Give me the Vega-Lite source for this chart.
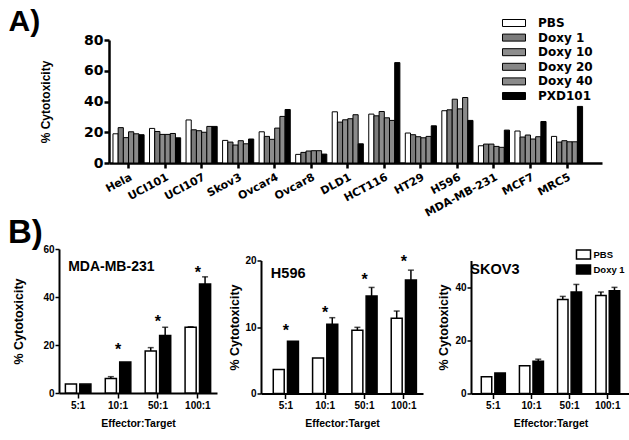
{
  "$schema": "https://vega.github.io/schema/vega-lite/v6.json",
  "background": "white",
  "padding": {"left": 7, "top": 7, "right": 0, "bottom": 0},
  "config": {
    "view": {"stroke": null},
    "font": "Liberation Sans",
    "axis": {"grid": false, "domainColor": "black", "tickColor": "black", "labelColor": "black", "titleColor": "black"},
    "legend": {"labelColor": "black"}
  },
  "datasets": {
    "a": [
      {"cell": "Hela", "treatment": "PBS", "value": 19},
      {"cell": "Hela", "treatment": "Doxy 1", "value": 23},
      {"cell": "Hela", "treatment": "Doxy 10", "value": 16.5},
      {"cell": "Hela", "treatment": "Doxy 20", "value": 20.3},
      {"cell": "Hela", "treatment": "Doxy 40", "value": 19},
      {"cell": "Hela", "treatment": "PXD101", "value": 18.4},
      {"cell": "UCI101", "treatment": "PBS", "value": 22.5},
      {"cell": "UCI101", "treatment": "Doxy 1", "value": 20.5},
      {"cell": "UCI101", "treatment": "Doxy 10", "value": 18.6},
      {"cell": "UCI101", "treatment": "Doxy 20", "value": 18.6},
      {"cell": "UCI101", "treatment": "Doxy 40", "value": 19.2},
      {"cell": "UCI101", "treatment": "PXD101", "value": 16.4},
      {"cell": "UCI107", "treatment": "PBS", "value": 28},
      {"cell": "UCI107", "treatment": "Doxy 1", "value": 21.6},
      {"cell": "UCI107", "treatment": "Doxy 10", "value": 21},
      {"cell": "UCI107", "treatment": "Doxy 20", "value": 20},
      {"cell": "UCI107", "treatment": "Doxy 40", "value": 23.8},
      {"cell": "UCI107", "treatment": "PXD101", "value": 23.8},
      {"cell": "Skov3", "treatment": "PBS", "value": 14.7},
      {"cell": "Skov3", "treatment": "Doxy 1", "value": 13.6},
      {"cell": "Skov3", "treatment": "Doxy 10", "value": 11.7},
      {"cell": "Skov3", "treatment": "Doxy 20", "value": 14.5},
      {"cell": "Skov3", "treatment": "Doxy 40", "value": 12.5},
      {"cell": "Skov3", "treatment": "PXD101", "value": 15.6},
      {"cell": "Ovcar4", "treatment": "PBS", "value": 20.3},
      {"cell": "Ovcar4", "treatment": "Doxy 1", "value": 17.3},
      {"cell": "Ovcar4", "treatment": "Doxy 10", "value": 15.4},
      {"cell": "Ovcar4", "treatment": "Doxy 20", "value": 22.7},
      {"cell": "Ovcar4", "treatment": "Doxy 40", "value": 30.3},
      {"cell": "Ovcar4", "treatment": "PXD101", "value": 34.8},
      {"cell": "Ovcar8", "treatment": "PBS", "value": 5.6},
      {"cell": "Ovcar8", "treatment": "Doxy 1", "value": 6.9},
      {"cell": "Ovcar8", "treatment": "Doxy 10", "value": 7.8},
      {"cell": "Ovcar8", "treatment": "Doxy 20", "value": 8},
      {"cell": "Ovcar8", "treatment": "Doxy 40", "value": 8},
      {"cell": "Ovcar8", "treatment": "PXD101", "value": 5.8},
      {"cell": "DLD1", "treatment": "PBS", "value": 33.3},
      {"cell": "DLD1", "treatment": "Doxy 1", "value": 26.6},
      {"cell": "DLD1", "treatment": "Doxy 10", "value": 28.1},
      {"cell": "DLD1", "treatment": "Doxy 20", "value": 28.8},
      {"cell": "DLD1", "treatment": "Doxy 40", "value": 31.4},
      {"cell": "DLD1", "treatment": "PXD101", "value": 12.5},
      {"cell": "HCT116", "treatment": "PBS", "value": 31.8},
      {"cell": "HCT116", "treatment": "Doxy 1", "value": 30.7},
      {"cell": "HCT116", "treatment": "Doxy 10", "value": 33.5},
      {"cell": "HCT116", "treatment": "Doxy 20", "value": 29.4},
      {"cell": "HCT116", "treatment": "Doxy 40", "value": 27.7},
      {"cell": "HCT116", "treatment": "PXD101", "value": 65.3},
      {"cell": "HT29", "treatment": "PBS", "value": 19.5},
      {"cell": "HT29", "treatment": "Doxy 1", "value": 18.4},
      {"cell": "HT29", "treatment": "Doxy 10", "value": 17.1},
      {"cell": "HT29", "treatment": "Doxy 20", "value": 16.4},
      {"cell": "HT29", "treatment": "Doxy 40", "value": 17.3},
      {"cell": "HT29", "treatment": "PXD101", "value": 24.2},
      {"cell": "H596", "treatment": "PBS", "value": 34},
      {"cell": "H596", "treatment": "Doxy 1", "value": 34.6},
      {"cell": "H596", "treatment": "Doxy 10", "value": 41.5},
      {"cell": "H596", "treatment": "Doxy 20", "value": 35.2},
      {"cell": "H596", "treatment": "Doxy 40", "value": 42.6},
      {"cell": "H596", "treatment": "PXD101", "value": 27.7},
      {"cell": "MDA-MB-231", "treatment": "PBS", "value": 11.2},
      {"cell": "MDA-MB-231", "treatment": "Doxy 1", "value": 12.3},
      {"cell": "MDA-MB-231", "treatment": "Doxy 10", "value": 12.3},
      {"cell": "MDA-MB-231", "treatment": "Doxy 20", "value": 10.8},
      {"cell": "MDA-MB-231", "treatment": "Doxy 40", "value": 10.2},
      {"cell": "MDA-MB-231", "treatment": "PXD101", "value": 21.4},
      {"cell": "MCF7", "treatment": "PBS", "value": 20.8},
      {"cell": "MCF7", "treatment": "Doxy 1", "value": 16.9},
      {"cell": "MCF7", "treatment": "Doxy 10", "value": 18.2},
      {"cell": "MCF7", "treatment": "Doxy 20", "value": 15.6},
      {"cell": "MCF7", "treatment": "Doxy 40", "value": 17.1},
      {"cell": "MCF7", "treatment": "PXD101", "value": 27},
      {"cell": "MRC5", "treatment": "PBS", "value": 17.3},
      {"cell": "MRC5", "treatment": "Doxy 1", "value": 13.6},
      {"cell": "MRC5", "treatment": "Doxy 10", "value": 14.5},
      {"cell": "MRC5", "treatment": "Doxy 20", "value": 13.8},
      {"cell": "MRC5", "treatment": "Doxy 40", "value": 13.8},
      {"cell": "MRC5", "treatment": "PXD101", "value": 36.8}
    ],
    "b1": [
      {"ratio": "5:1", "group": "PBS", "value": 3.7},
      {"ratio": "5:1", "group": "Doxy 1", "value": 3.7},
      {"ratio": "10:1", "group": "PBS", "value": 6.0, "upper": 6.8},
      {"ratio": "10:1", "group": "Doxy 1", "value": 12.9, "star": 19.5},
      {"ratio": "50:1", "group": "PBS", "value": 17.5, "upper": 18.9},
      {"ratio": "50:1", "group": "Doxy 1", "value": 24, "upper": 27.4, "star": 31.3},
      {"ratio": "100:1", "group": "PBS", "value": 27.4, "upper": 27.6},
      {"ratio": "100:1", "group": "Doxy 1", "value": 45.4, "upper": 48.4, "star": 51.5}
    ],
    "b2": [
      {"ratio": "5:1", "group": "PBS", "value": 3.6},
      {"ratio": "5:1", "group": "Doxy 1", "value": 7.85, "star": 10.05},
      {"ratio": "10:1", "group": "PBS", "value": 5.35},
      {"ratio": "10:1", "group": "Doxy 1", "value": 10.4, "upper": 11.4, "star": 12.65},
      {"ratio": "50:1", "group": "PBS", "value": 9.5, "upper": 9.95},
      {"ratio": "50:1", "group": "Doxy 1", "value": 14.65, "upper": 15.95, "star": 17.65},
      {"ratio": "100:1", "group": "PBS", "value": 11.3, "upper": 12.4},
      {"ratio": "100:1", "group": "Doxy 1", "value": 17.05, "upper": 18.55, "star": 20.45}
    ],
    "b3": [
      {"ratio": "5:1", "group": "PBS", "value": 6.3},
      {"ratio": "5:1", "group": "Doxy 1", "value": 7.7},
      {"ratio": "10:1", "group": "PBS", "value": 10.4},
      {"ratio": "10:1", "group": "Doxy 1", "value": 12.1, "upper": 12.9},
      {"ratio": "50:1", "group": "PBS", "value": 35.3, "upper": 36.5},
      {"ratio": "50:1", "group": "Doxy 1", "value": 38.2, "upper": 41},
      {"ratio": "100:1", "group": "PBS", "value": 36.8, "upper": 38.2},
      {"ratio": "100:1", "group": "Doxy 1", "value": 38.6, "upper": 39.9}
    ]
  },
  "spacing": -2,
  "resolve": {"scale": {"fill": "independent", "x": "independent", "y": "independent", "xOffset": "independent"}, "legend": {"fill": "independent"}},
  "vconcat": [
    {
      "spacing": -52,
      "resolve": {"scale": {"fill": "independent", "x": "independent", "y": "independent", "xOffset": "independent"}, "legend": {"fill": "independent"}},
      "hconcat": [
        {"width": 1, "height": 1, "data": {"values": []}, "mark": "point"},
        {
          "title": {"text": "A)", "anchor": "start", "font": "Liberation Sans", "fontSize": 30, "fontWeight": "bold", "color": "black", "baseline": "alphabetic", "dx": -31, "offset": -44},
          "width": 493,
          "height": 123,
          "data": {"name": "a"},
          "mark": {"type": "bar", "stroke": "black", "strokeWidth": 1},
          "encoding": {
            "x": {
              "field": "cell", "type": "nominal",
              "sort": ["Hela", "UCI101", "UCI107", "Skov3", "Ovcar4", "Ovcar8", "DLD1", "HCT116", "HT29", "H596", "MDA-MB-231", "MCF7", "MRC5"],
              "scale": {"paddingInner": 0.148, "paddingOuter": 0.32, "align": 0.17},
              "axis": {"title": null, "labelAngle": -28, "labelAlign": "right", "labelBaseline": "top", "labelFont": "DejaVu Sans", "labelFontWeight": "bold", "labelFontSize": 11, "labelPadding": 3, "domainWidth": 2.5, "tickWidth": 2.5, "tickSize": 5}
            },
            "xOffset": {"field": "treatment", "type": "nominal", "scale": {"domain": ["PBS", "Doxy 1", "Doxy 10", "Doxy 20", "Doxy 40", "PXD101"], "paddingInner": 0, "paddingOuter": 0}},
            "y": {
              "field": "value", "type": "quantitative",
              "scale": {"domain": [0, 80]},
              "axis": {"values": [0, 20, 40, 60, 80], "title": "% Cytotoxicity", "titleFont": "Liberation Sans", "titleFontSize": 12, "titleFontWeight": "bold", "titlePadding": 31, "labelFont": "DejaVu Sans", "labelFontWeight": "bold", "labelFontSize": 14, "labelPadding": 1, "domainWidth": 2.5, "tickWidth": 2.5, "tickSize": 5}
            },
            "fill": {
              "field": "treatment", "type": "nominal",
              "scale": {"domain": ["PBS", "Doxy 1", "Doxy 10", "Doxy 20", "Doxy 40", "PXD101"], "range": ["#ffffff", "#7b7b7b", "#8d8d8d", "#878787", "#8a8a8a", "#000000"]},
              "legend": {"orient": "none", "legendX": 399, "legendY": -23, "title": null, "padding": 0, "symbolType": "M-3.29,-1H3.29V1H-3.29Z", "symbolSize": 49, "symbolStrokeColor": "black", "symbolStrokeWidth": 1, "labelFont": "DejaVu Sans", "labelFontWeight": "bold", "labelFontSize": 12, "labelOffset": 18, "rowPadding": 2.6}
            }
          }
        }
      ]
    },
    {
      "title": {"text": "B)", "anchor": "start", "font": "Liberation Sans", "fontSize": 33, "fontWeight": "bold", "color": "black", "baseline": "alphabetic", "dx": -5, "offset": -32},
      "spacing": 11,
      "resolve": {"scale": {"fill": "independent", "x": "independent", "y": "independent", "xOffset": "independent"}, "legend": {"fill": "independent"}},
      "hconcat": [
        {
          "width": 158,
          "height": 144,
          "data": {"name": "b1"},
          "encoding": {
            "x": {
              "field": "ratio", "type": "nominal", "sort": ["5:1", "10:1", "50:1", "100:1"],
              "scale": {"paddingInner": 0.36, "paddingOuter": 0.16},
              "axis": {"title": "Effector:Target", "titleFont": "Liberation Sans", "titleFontSize": 10.5, "titleFontWeight": "bold", "titlePadding": 8, "labelAngle": 0, "labelFont": "Liberation Sans", "labelFontWeight": "bold", "labelFontSize": 10, "labelPadding": 2, "domainWidth": 2, "tickWidth": 1.5, "tickSize": 5}
            }
          },
          "layer": [
            {
              "mark": {"type": "bar", "stroke": "black", "strokeWidth": 1.5},
              "encoding": {
                "xOffset": {"field": "group", "type": "nominal", "scale": {"domain": ["PBS", "Doxy 1"], "paddingInner": 0.23}},
                "y": {"field": "value", "type": "quantitative", "scale": {"domain": [0, 60]},
                  "axis": {"values": [0, 20, 40, 60], "title": "% Cytotoxicity", "titleFont": "Liberation Sans", "titleFontSize": 12.5, "titleFontWeight": "bold", "titlePadding": 17, "labelFont": "Liberation Sans", "labelFontWeight": "bold", "labelFontSize": 10, "labelPadding": 1, "domainWidth": 2, "tickWidth": 1.5, "tickSize": 4}},
                "fill": {"field": "group", "type": "nominal", "scale": {"domain": ["PBS", "Doxy 1"], "range": ["#ffffff", "#000000"]}, "legend": null}
              }
            },
            {
              "transform": [{"filter": "isValid(datum.upper)"}],
              "mark": {"type": "rule", "color": "black", "strokeWidth": 1.5},
              "encoding": {
                "xOffset": {"field": "group", "type": "nominal", "scale": {"domain": ["PBS", "Doxy 1"], "paddingInner": 0.23}},
                "y": {"field": "value", "type": "quantitative"},
                "y2": {"field": "upper"}
              }
            },
            {
              "transform": [{"filter": "isValid(datum.upper)"}],
              "mark": {"type": "tick", "color": "black", "size": 6, "thickness": 1.5},
              "encoding": {
                "xOffset": {"field": "group", "type": "nominal", "scale": {"domain": ["PBS", "Doxy 1"], "paddingInner": 0.23}},
                "y": {"field": "upper", "type": "quantitative"}
              }
            },
            {
              "transform": [{"filter": "isValid(datum.star)"}],
              "mark": {"type": "text", "text": "*", "font": "Liberation Sans", "fontWeight": "bold", "fontSize": 16, "baseline": "alphabetic", "dy": 9, "color": "black"},
              "encoding": {"y": {"field": "star", "type": "quantitative"}}
            },
            {
              "data": {"values": [{"label": "MDA-MB-231"}]},
              "mark": {"type": "text", "font": "Liberation Sans", "fontWeight": "bold", "fontSize": 14, "align": "left", "baseline": "alphabetic", "dx": -10, "dy": 22, "color": "black"},
              "encoding": {"x": {"datum": "5:1"}, "y": {"datum": 60}, "text": {"field": "label"}}
            }
          ]
        },
        {
          "spacing": -1.5,
          "resolve": {"scale": {"fill": "independent", "x": "independent", "y": "independent", "xOffset": "independent"}, "legend": {"fill": "independent"}},
          "vconcat": [
            {"width": 1, "height": 1, "data": {"values": []}, "mark": "point"},
            {
              "spacing": 14,
              "resolve": {"scale": {"fill": "independent", "x": "independent", "y": "independent", "xOffset": "independent"}, "legend": {"fill": "independent"}},
              "hconcat": [
                {
                  "width": 162,
                  "height": 133,
                  "data": {"name": "b2"},
                  "encoding": {
                    "x": {
                      "field": "ratio", "type": "nominal", "sort": ["5:1", "10:1", "50:1", "100:1"],
                      "scale": {"paddingInner": 0.36, "paddingOuter": 0.24, "align": 0.65},
                      "axis": {"title": "Effector:Target", "titleFont": "Liberation Sans", "titleFontSize": 10.5, "titleFontWeight": "bold", "titlePadding": 8, "labelAngle": 0, "labelFont": "Liberation Sans", "labelFontWeight": "bold", "labelFontSize": 10, "labelPadding": 2, "domainWidth": 2, "tickWidth": 1.5, "tickSize": 5}
                    }
                  },
                  "layer": [
                    {
                      "mark": {"type": "bar", "stroke": "black", "strokeWidth": 1.5},
                      "encoding": {
                        "xOffset": {"field": "group", "type": "nominal", "scale": {"domain": ["PBS", "Doxy 1"], "paddingInner": 0.23}},
                        "y": {"field": "value", "type": "quantitative", "scale": {"domain": [0, 20]},
                          "axis": {"values": [0, 5, 10, 15, 20], "title": "% Cytotoxicity", "titleFont": "Liberation Sans", "titleFontSize": 12.5, "titleFontWeight": "bold", "titlePadding": 3, "labelFont": "Liberation Sans", "labelFontWeight": "bold", "labelFontSize": 10, "labelPadding": 1, "domainWidth": 2, "tickWidth": 1.5, "tickSize": 4}},
                        "fill": {"field": "group", "type": "nominal", "scale": {"domain": ["PBS", "Doxy 1"], "range": ["#ffffff", "#000000"]}, "legend": null}
                      }
                    },
                    {
                      "transform": [{"filter": "isValid(datum.upper)"}],
                      "mark": {"type": "rule", "color": "black", "strokeWidth": 1.5},
                      "encoding": {
                        "xOffset": {"field": "group", "type": "nominal", "scale": {"domain": ["PBS", "Doxy 1"], "paddingInner": 0.23}},
                        "y": {"field": "value", "type": "quantitative"},
                        "y2": {"field": "upper"}
                      }
                    },
                    {
                      "transform": [{"filter": "isValid(datum.upper)"}],
                      "mark": {"type": "tick", "color": "black", "size": 6, "thickness": 1.5},
                      "encoding": {
                        "xOffset": {"field": "group", "type": "nominal", "scale": {"domain": ["PBS", "Doxy 1"], "paddingInner": 0.23}},
                        "y": {"field": "upper", "type": "quantitative"}
                      }
                    },
                    {
                      "transform": [{"filter": "isValid(datum.star)"}],
                      "mark": {"type": "text", "text": "*", "font": "Liberation Sans", "fontWeight": "bold", "fontSize": 16, "baseline": "alphabetic", "dy": 9, "color": "black"},
                      "encoding": {"y": {"field": "star", "type": "quantitative"}}
                    },
                    {
                      "data": {"values": [{"label": "H596"}]},
                      "mark": {"type": "text", "font": "Liberation Sans", "fontWeight": "bold", "fontSize": 14.5, "align": "left", "baseline": "alphabetic", "dx": -15, "dy": 17, "color": "black"},
                      "encoding": {"x": {"datum": "5:1"}, "y": {"datum": 20}, "text": {"field": "label"}}
                    }
                  ]
                },
                {
                  "width": 159,
                  "height": 133,
                  "data": {"name": "b3"},
                  "encoding": {
                    "x": {
                      "field": "ratio", "type": "nominal", "sort": ["5:1", "10:1", "50:1", "100:1"],
                      "scale": {"paddingInner": 0.37, "paddingOuter": 0.27},
                      "axis": {"title": "Effector:Target", "titleFont": "Liberation Sans", "titleFontSize": 10.5, "titleFontWeight": "bold", "titlePadding": 8, "labelAngle": 0, "labelFont": "Liberation Sans", "labelFontWeight": "bold", "labelFontSize": 10, "labelPadding": 2, "domainWidth": 2, "tickWidth": 1.5, "tickSize": 5}
                    }
                  },
                  "layer": [
                    {
                      "mark": {"type": "bar", "stroke": "black", "strokeWidth": 1.5},
                      "encoding": {
                        "xOffset": {"field": "group", "type": "nominal", "scale": {"domain": ["PBS", "Doxy 1"], "paddingInner": 0.23}},
                        "y": {"field": "value", "type": "quantitative", "scale": {"domain": [0, 50]},
                          "axis": {"values": [0, 10, 20, 30, 40, 50], "title": "% Cytotoxicity", "titleFont": "Liberation Sans", "titleFontSize": 12.5, "titleFontWeight": "bold", "titlePadding": 4, "labelFont": "Liberation Sans", "labelFontWeight": "bold", "labelFontSize": 10, "labelPadding": 1, "domainWidth": 2, "tickWidth": 1.5, "tickSize": 4}},
                        "fill": {"field": "group", "type": "nominal", "scale": {"domain": ["PBS", "Doxy 1"], "range": ["#ffffff", "#000000"]},
                          "legend": {"orient": "none", "legendX": 107, "legendY": -11.5, "title": null, "padding": 0, "symbolType": "M-1.56,-1H1.56V1H-1.56Z", "symbolSize": 81, "symbolStrokeColor": "black", "symbolStrokeWidth": 1.5, "labelFont": "Liberation Sans", "labelFontWeight": "bold", "labelFontSize": 9.5, "labelOffset": 4.5, "rowPadding": 0}}
                      }
                    },
                    {
                      "transform": [{"filter": "isValid(datum.upper)"}],
                      "mark": {"type": "rule", "color": "black", "strokeWidth": 1.5},
                      "encoding": {
                        "xOffset": {"field": "group", "type": "nominal", "scale": {"domain": ["PBS", "Doxy 1"], "paddingInner": 0.23}},
                        "y": {"field": "value", "type": "quantitative"},
                        "y2": {"field": "upper"}
                      }
                    },
                    {
                      "transform": [{"filter": "isValid(datum.upper)"}],
                      "mark": {"type": "tick", "color": "black", "size": 6, "thickness": 1.5},
                      "encoding": {
                        "xOffset": {"field": "group", "type": "nominal", "scale": {"domain": ["PBS", "Doxy 1"], "paddingInner": 0.23}},
                        "y": {"field": "upper", "type": "quantitative"}
                      }
                    },
                    {
                      "data": {"values": [{"label": "SKOV3"}]},
                      "mark": {"type": "text", "font": "Liberation Sans", "fontWeight": "bold", "fontSize": 14.5, "align": "left", "baseline": "alphabetic", "dx": -23, "dy": 13, "color": "black"},
                      "encoding": {"x": {"datum": "5:1"}, "y": {"datum": 50}, "text": {"field": "label"}}
                    }
                  ]
                }
              ]
            }
          ]
        }
      ]
    }
  ]
}
